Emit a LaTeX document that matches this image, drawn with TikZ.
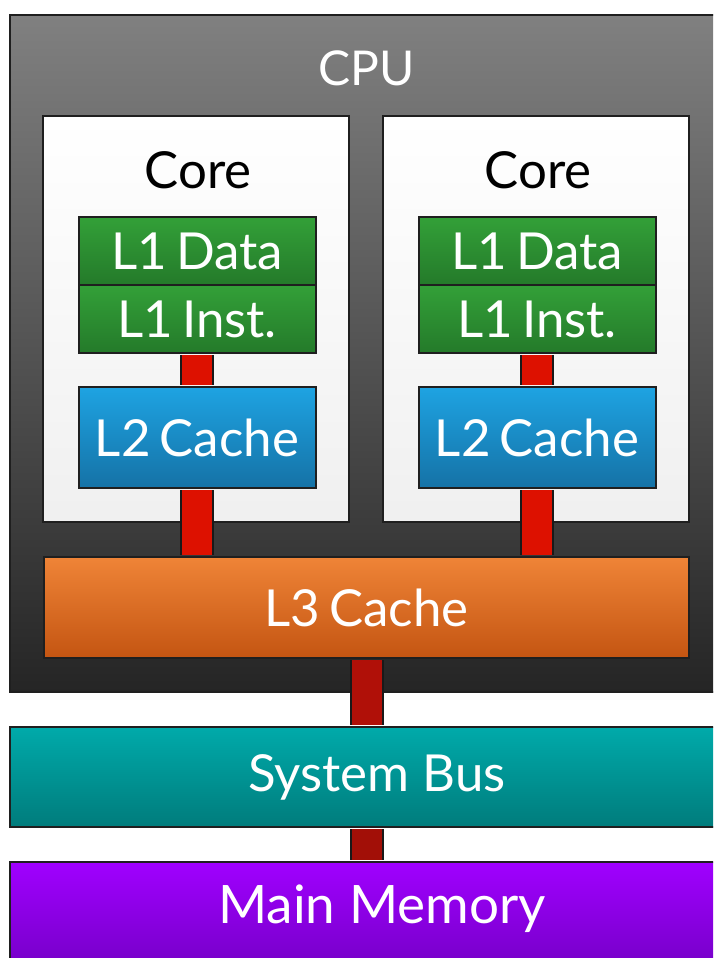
\documentclass[tikz,border=0pt]{standalone}
\usepackage{fontspec}
\setmainfont{Lato}
\begin{document}
\begin{tikzpicture}[x=1pt,y=-1pt,
  box/.style={draw=black!88, line width=2pt, inner sep=0pt, font=\fontsize{51}{55}\selectfont, text=white},
  wire/.style={draw=black!90, line width=2pt, double distance=30pt},
  lbl/.style={font=\fontsize{51}{55}\selectfont, inner sep=0pt}
]
\useasboundingbox (0,0) rectangle (713,958);
\clip (0,0) rectangle (713,958);
\fill[white] (0,0) rectangle (713,958);
\definecolor{cpuT}{HTML}{808080}\definecolor{cpuB}{HTML}{252525}
\definecolor{grnT}{HTML}{33A038}\definecolor{grnB}{HTML}{247A2A}
\definecolor{bluT}{HTML}{1EA3E2}\definecolor{bluB}{HTML}{1572A6}
\definecolor{orT}{HTML}{EF8437}\definecolor{orB}{HTML}{C45512}
\definecolor{tlT}{HTML}{00AAAA}\definecolor{tlB}{HTML}{007C7C}
\definecolor{puT}{HTML}{A000FF}\definecolor{puB}{HTML}{7000C0}
\definecolor{redA}{HTML}{DD1100}\definecolor{redB}{HTML}{B01008}

% CPU
\node[box, top color=cpuT, bottom color=cpuB, minimum width=740, minimum height=677] (cpu) at (380,353.5) {};
\node[lbl, text=white, font=\fontsize{48}{52}\selectfont] (cputxt) at (367,68) {CPU};

% cores
\foreach \n/\cx in {a/196,b/536}{
  \node[box, top color=white, bottom color=black!6, minimum width=306, minimum height=406] (core\n) at (\cx,319) {};
  \node[lbl, text=black] (coretxt\n) at (\cx+2,170) {Core};
  \node[box, top color=grnT, bottom color=grnB, minimum width=237, minimum height=68] (lA\n) at (\cx+1,251) {L1\hspace{0.18em}Data};
  \node[box, top color=grnT, bottom color=grnB, minimum width=237, minimum height=68] (lI\n) at (\cx+1,319) {L1\hspace{0.18em}Inst.};
  \node[box, top color=bluT, bottom color=bluB, minimum width=237, minimum height=101] (ltwo\n) at (\cx+1,437.5) {L2\hspace{0.18em}Cache};
}

% L3
\node[box, top color=orT, bottom color=orB, minimum width=645, minimum height=101] (lthree) at (366.5,607.5) {L3\hspace{0.18em}Cache};

% bus + memory
\node[box, top color=tlT, bottom color=tlB, minimum width=740, minimum height=100] (bus) at (380,777) {};
\node[lbl, text=white] (bustxt) at (377,777) {System Bus};
\node[box, top color=puT, bottom color=puB, minimum width=740, minimum height=120] (mem) at (380,922) {};
\node[lbl, text=white, font=\fontsize{53}{57}\selectfont] (memtxt) at (382,909) {Main Memory};

% connectors
\foreach \n in {a,b}{
  \draw[wire, double=redA] ([yshift=-1pt]lI\n.south) -- ([yshift=1pt]ltwo\n.north);
  \draw[wire, double=redA] ([yshift=-1pt]ltwo\n.south) -- ([yshift=1pt]lthree.north -| ltwo\n.south);
}
\draw[wire, double=redB] ([yshift=-1pt]lthree.south) -- ([yshift=1pt]bus.north -| lthree.south);
\draw[wire, double=redB!92!black] ([yshift=-1pt]bus.south -| lthree.south) -- ([yshift=1pt]mem.north -| lthree.south);
\end{tikzpicture}
\end{document}
